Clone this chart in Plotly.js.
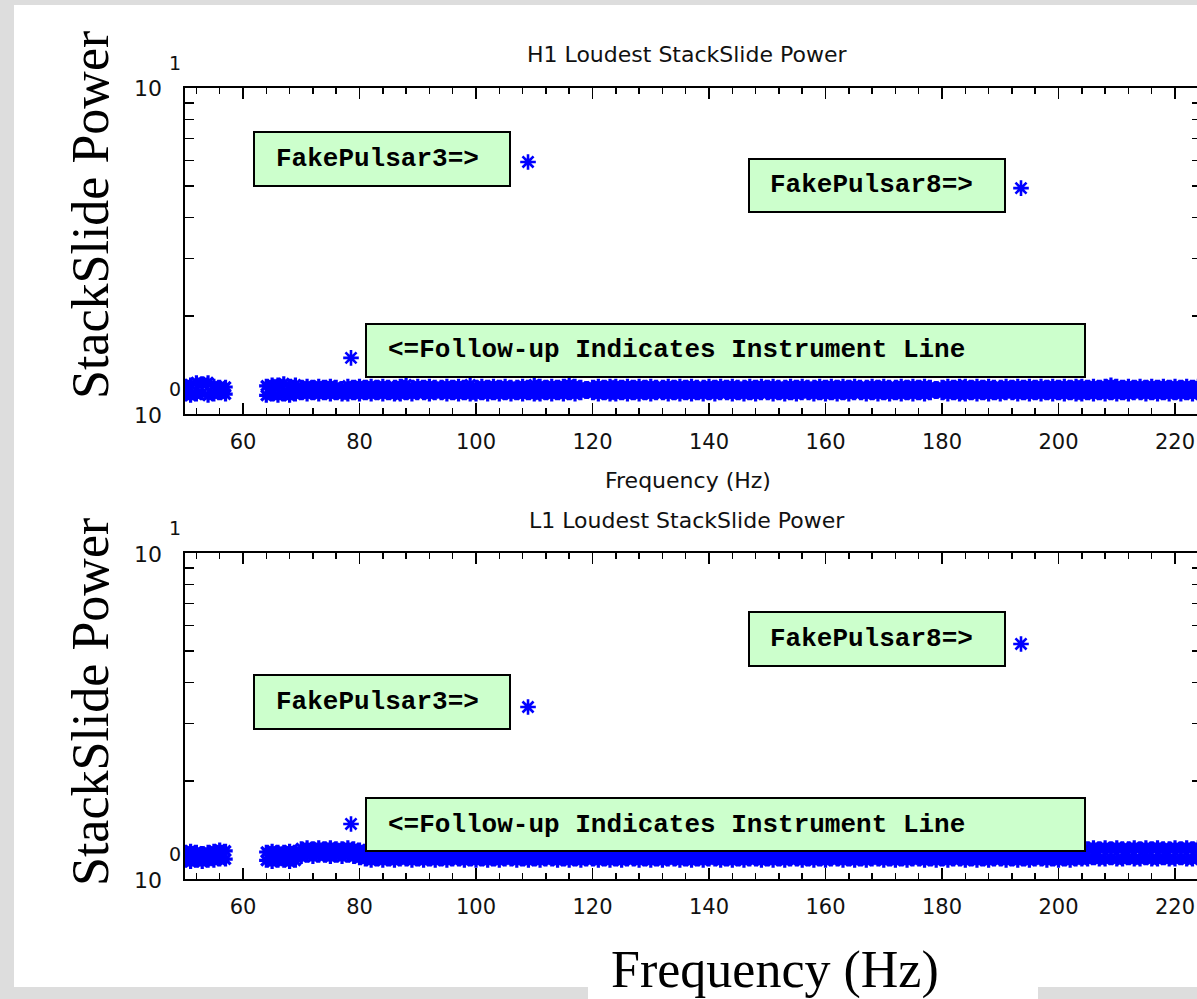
<!DOCTYPE html>
<html><head><meta charset="utf-8">
<script src="https://cdn.plot.ly/plotly-3.0.1.min.js"></script>
<style>
html,body{margin:0;padding:0;overflow:hidden;background:#dddddd;width:1197px;height:999px;}
#w1{position:absolute;left:14px;top:5px;width:1200px;height:982px;background:#fff;}
#w2{position:absolute;left:588px;top:987px;width:450px;height:12px;background:#fff;}
#chart{position:absolute;left:0;top:0;}
</style></head><body>
<div id="w1"></div><div id="w2"></div><div id="chart"></div>
<script>
// ---- data ----
const freqLow = [50,51,52,53,54,55,56,57];
const freqHigh = [64,65,66,67,68,69,70,71,72,73,
74,75,76,77,78,79,80,81,82,83,
84,85,86,87,88,89,90,91,92,93,
94,95,96,97,98,99,100,101,102,103,
104,105,106,107,108,109,110,111,112,113,
114,115,116,117,118,119,120,121,122,123,
124,125,126,127,128,129,130,131,132,133,
134,135,136,137,138,139,140,141,142,143,
144,145,146,147,148,149,150,151,152,153,
154,155,156,157,158,159,160,161,162,163,
164,165,166,167,168,169,170,171,172,173,
174,175,176,177,178,179,180,181,182,183,
184,185,186,187,188,189,190,191,192,193,
194,195,196,197,198,199,200,201,202,203,
204,205,206,207,208,209,210,211,212,213,
214,215,216,217,218,219,220,221,222,223,
224];

// H1 loudest power: upper and lower edge of the dense band
const h1LowUpper = [1.22,1.23,1.25,1.24,1.25,1.22,1.21,1.21];
const h1LowLower = [1.15,1.14,1.15,1.16,1.14,1.15,1.16,1.15];
const h1HighUpper = [1.22,1.23,1.23,1.24,1.22,1.23,1.21,1.22,1.21,1.22,
1.21,1.22,1.21,1.20,1.22,1.21,1.22,1.21,1.22,1.21,
1.22,1.21,1.21,1.22,1.23,1.21,1.22,1.21,1.22,1.21,
1.21,1.22,1.21,1.22,1.21,1.23,1.21,1.22,1.21,1.22,
1.21,1.22,1.21,1.21,1.22,1.21,1.23,1.22,1.21,1.22,
1.21,1.22,1.23,1.22,1.21,1.20,1.21,1.22,1.21,1.22,
1.22,1.21,1.22,1.21,1.22,1.21,1.22,1.21,1.21,1.22,
1.21,1.22,1.21,1.22,1.21,1.21,1.22,1.21,1.22,1.21,
1.22,1.21,1.21,1.22,1.21,1.22,1.21,1.22,1.21,1.21,
1.22,1.21,1.22,1.21,1.21,1.22,1.21,1.22,1.21,1.22,
1.21,1.22,1.21,1.21,1.22,1.21,1.22,1.21,1.21,1.22,
1.21,1.22,1.21,1.22,1.21,1.20,1.21,1.22,1.21,1.22,
1.22,1.21,1.22,1.21,1.22,1.21,1.21,1.22,1.21,1.22,
1.21,1.22,1.21,1.22,1.21,1.22,1.21,1.22,1.21,1.22,
1.22,1.21,1.22,1.21,1.22,1.23,1.22,1.21,1.22,1.21,
1.22,1.21,1.22,1.21,1.22,1.21,1.22,1.21,1.22,1.21,
1.22];
const h1HighLower = [1.14,1.15,1.14,1.15,1.14,1.15,1.16,1.15,1.16,1.15,
1.16,1.15,1.16,1.15,1.15,1.16,1.15,1.16,1.15,1.16,
1.15,1.16,1.15,1.15,1.16,1.15,1.16,1.16,1.15,1.16,
1.16,1.15,1.16,1.15,1.16,1.15,1.15,1.16,1.15,1.16,
1.15,1.16,1.15,1.16,1.15,1.16,1.15,1.15,1.16,1.15,
1.16,1.15,1.16,1.15,1.16,1.17,1.16,1.15,1.16,1.15,
1.15,1.16,1.15,1.16,1.15,1.16,1.15,1.16,1.16,1.15,
1.16,1.15,1.16,1.15,1.16,1.15,1.16,1.15,1.16,1.16,
1.15,1.16,1.15,1.16,1.15,1.16,1.16,1.15,1.16,1.15,
1.16,1.15,1.16,1.16,1.15,1.16,1.15,1.16,1.15,1.16,
1.15,1.16,1.16,1.15,1.16,1.15,1.16,1.15,1.16,1.15,
1.16,1.15,1.16,1.15,1.16,1.17,1.16,1.15,1.16,1.15,
1.15,1.16,1.15,1.16,1.15,1.16,1.15,1.16,1.16,1.15,
1.16,1.15,1.16,1.15,1.16,1.15,1.16,1.15,1.16,1.15,
1.15,1.16,1.15,1.16,1.15,1.16,1.15,1.16,1.15,1.16,
1.16,1.15,1.16,1.15,1.16,1.15,1.16,1.15,1.16,1.15,
1.16];

// L1 loudest power: upper and lower edge of the dense band
const l1LowUpper = [1.21,1.22,1.21,1.20,1.21,1.22,1.23,1.22];
const l1LowLower = [1.14,1.13,1.14,1.13,1.14,1.14,1.15,1.15];
const l1HighUpper = [1.21,1.22,1.21,1.21,1.22,1.21,1.24,1.25,1.24,1.25,
1.24,1.25,1.24,1.24,1.25,1.24,1.23,1.22,1.21,1.22,
1.21,1.22,1.22,1.21,1.22,1.21,1.22,1.21,1.22,1.22,
1.21,1.22,1.21,1.22,1.22,1.21,1.22,1.21,1.22,1.21,
1.22,1.21,1.22,1.22,1.21,1.22,1.21,1.22,1.21,1.22,
1.22,1.21,1.22,1.21,1.22,1.21,1.22,1.22,1.21,1.22,
1.21,1.22,1.21,1.22,1.22,1.21,1.22,1.21,1.22,1.21,
1.22,1.22,1.21,1.22,1.21,1.22,1.21,1.22,1.22,1.21,
1.22,1.21,1.22,1.21,1.22,1.22,1.21,1.22,1.21,1.22,
1.21,1.22,1.22,1.21,1.22,1.21,1.22,1.21,1.22,1.22,
1.21,1.22,1.21,1.22,1.21,1.22,1.22,1.21,1.22,1.21,
1.22,1.21,1.22,1.22,1.21,1.22,1.21,1.22,1.21,1.22,
1.22,1.21,1.22,1.21,1.22,1.21,1.22,1.22,1.21,1.22,
1.21,1.22,1.21,1.22,1.22,1.21,1.22,1.21,1.22,1.21,
1.22,1.24,1.25,1.24,1.25,1.24,1.25,1.24,1.24,1.25,
1.24,1.25,1.24,1.25,1.24,1.24,1.25,1.24,1.25,1.24,
1.25];
const l1HighLower = [1.14,1.13,1.14,1.14,1.13,1.14,1.17,1.18,1.17,1.18,
1.18,1.17,1.18,1.17,1.18,1.17,1.16,1.15,1.14,1.15,
1.14,1.15,1.14,1.15,1.15,1.14,1.15,1.14,1.15,1.14,
1.15,1.14,1.15,1.15,1.14,1.15,1.14,1.15,1.14,1.15,
1.14,1.15,1.15,1.14,1.15,1.14,1.15,1.14,1.15,1.15,
1.14,1.15,1.14,1.15,1.14,1.15,1.15,1.14,1.15,1.14,
1.15,1.14,1.15,1.15,1.14,1.15,1.14,1.15,1.14,1.15,
1.15,1.14,1.15,1.14,1.15,1.14,1.15,1.15,1.14,1.15,
1.14,1.15,1.14,1.15,1.15,1.14,1.15,1.14,1.15,1.14,
1.15,1.15,1.14,1.15,1.14,1.15,1.14,1.15,1.15,1.14,
1.15,1.14,1.15,1.14,1.15,1.15,1.14,1.15,1.14,1.15,
1.14,1.15,1.15,1.14,1.15,1.14,1.15,1.14,1.15,1.15,
1.14,1.15,1.14,1.15,1.14,1.15,1.15,1.14,1.15,1.14,
1.15,1.14,1.15,1.15,1.14,1.15,1.14,1.15,1.14,1.15,
1.15,1.15,1.16,1.15,1.15,1.16,1.15,1.15,1.16,1.15,
1.15,1.16,1.15,1.15,1.16,1.15,1.15,1.16,1.15,1.15,
1.16];

// isolated loud candidates: follow-up line, FakePulsar3, FakePulsar8
const candFreq = [78.54, 108.93, 193.56];
const h1CandPower = [1.486, 5.93, 4.93];
const l1CandPower = [1.475, 3.37, 5.26];

const plotTitles = ['H1 Loudest StackSlide Power', 'L1 Loudest StackSlide Power'];
const boxLabels = ['FakePulsar3=>', 'FakePulsar8=>', '<=Follow-up Indicates Instrument Line'];
const yTickBase = '10';
const yTickExp = ['0', '1'];

// ---- figure ----
const W = 1203, H = 999;
const px = v => v / W;
const py = v => 1 - v / H;
const BLUE = '#0000ff';

const bandMarker = {symbol: 'asterisk-open', size: 12, color: BLUE, line: {color: BLUE, width: 3.2}};
const candMarker = {symbol: 'asterisk-open', size: 13, color: BLUE, line: {color: BLUE, width: 2.6}};

function bandTrace(x, y, xa, ya) {
  return {type: 'scatter', mode: 'markers', x: x, y: y, xaxis: xa, yaxis: ya,
          marker: bandMarker, hoverinfo: 'skip', showlegend: false};
}
const xAll = freqLow.concat(freqHigh);
const data = [
  bandTrace(xAll, h1LowUpper.concat(h1HighUpper), 'x', 'y'),
  bandTrace(xAll, h1LowLower.concat(h1HighLower), 'x', 'y'),
  {type: 'scatter', mode: 'markers', x: candFreq, y: h1CandPower, xaxis: 'x', yaxis: 'y',
   marker: candMarker, hoverinfo: 'skip', showlegend: false},
  bandTrace(xAll, l1LowUpper.concat(l1HighUpper), 'x2', 'y2'),
  bandTrace(xAll, l1LowLower.concat(l1HighLower), 'x2', 'y2'),
  {type: 'scatter', mode: 'markers', x: candFreq, y: l1CandPower, xaxis: 'x2', yaxis: 'y2',
   marker: candMarker, hoverinfo: 'skip', showlegend: false}
];

const tickFont = {family: 'DejaVu Sans', size: 21, color: '#111'};
function xAxis(anchor) {
  return {anchor: anchor, domain: [px(184.75), px(1201)], range: [50, 224.46], type: 'linear',
    tickmode: 'linear', tick0: 0, dtick: 20, ticks: 'inside', ticklen: 11, tickwidth: 1.5, tickcolor: '#000',
    minor: {tick0: 0, dtick: 4, ticks: 'inside', ticklen: 6, tickwidth: 1.5, tickcolor: '#000'},
    showline: true, linewidth: 2, linecolor: '#000', mirror: 'ticks', showgrid: false, zeroline: false,
    tickfont: tickFont, ticklabelstandoff: 8, automargin: false, fixedrange: true};
}
function yAxis(anchor, top, bottom) {
  return {anchor: anchor, domain: [py(bottom), py(top)], type: 'log', range: [0, 1],
    tickmode: 'array', tickvals: [2,3,4,5,6,7,8,9], ticks: 'inside', ticklen: 9, tickwidth: 1.5, tickcolor: '#000',
    showticklabels: false, showline: true, linewidth: 2, linecolor: '#000', mirror: 'ticks',
    showgrid: false, zeroline: false, automargin: false, fixedrange: true};
}

const panels = [{top: 88, bottom: 414}, {top: 553, bottom: 879}];
const shapes = [];
const annotations = [];

function box(x0, y0, x1, y1, label, textX) {
  shapes.push({type: 'rect', xref: 'paper', yref: 'paper', x0: px(x0), x1: px(x1), y0: py(y1), y1: py(y0),
    fillcolor: '#ccffcc', line: {color: '#000', width: 2}, layer: 'above'});
  annotations.push({xref: 'paper', yref: 'paper', x: px(textX), y: py((y0 + y1) / 2), xanchor: 'left', yanchor: 'middle',
    text: label, showarrow: false, font: {family: 'Liberation Mono', size: 26, color: '#000', weight: 'bold'}});
}
// top panel boxes
box(254, 132, 510, 186, '<b>' + boxLabels[0] + '</b>', 274);
box(749, 159, 1005, 212, '<b>' + boxLabels[1] + '</b>', 768);
box(366, 324, 1085, 377, '<b>' + boxLabels[2] + '</b>', 386);
// bottom panel boxes
box(749, 612, 1005, 666, '<b>' + boxLabels[1] + '</b>', 768);
box(254, 675, 510, 729, '<b>' + boxLabels[0] + '</b>', 274);
box(366, 798, 1085, 851, '<b>' + boxLabels[2] + '</b>', 386);

panels.forEach((p, i) => {
  // y tick labels 10^0 / 10^1 in the plot's style
  [[p.bottom, yTickExp[0]], [p.top, yTickExp[1]]].forEach(([yy, e]) => {
    annotations.push({xref: 'paper', yref: 'paper', x: px(164), y: py(yy + 1), xanchor: 'right', yanchor: 'middle',
      text: yTickBase, showarrow: false, font: {family: 'DejaVu Sans', size: 22, color: '#111'}});
    annotations.push({xref: 'paper', yref: 'paper', x: px(174.5), y: py(yy - 25), xanchor: 'center', yanchor: 'middle',
      text: e, showarrow: false, font: {family: 'DejaVu Sans', size: 19, color: '#111'}});
  });
  // panel title
  annotations.push({xref: 'paper', yref: 'paper', x: px(687), y: py(p.top - 33), xanchor: 'center', yanchor: 'middle',
    text: plotTitles[i], showarrow: false, font: {family: 'DejaVu Sans', size: 22, color: '#111'}});
  // big serif y title
  annotations.push({xref: 'paper', yref: 'paper', x: px(90), y: py((p.top + p.bottom) / 2 - (i === 0 ? 36 : 14)),
    xanchor: 'center', yanchor: 'middle', textangle: -90,
    text: 'StackSlide Power', showarrow: false, font: {family: 'Liberation Serif', size: 52, color: '#000'}});
});
// small x title under top panel
annotations.push({xref: 'paper', yref: 'paper', x: px(688), y: py(480), xanchor: 'center', yanchor: 'middle',
  text: 'Frequency (Hz)', showarrow: false, font: {family: 'DejaVu Sans', size: 22, color: '#111'}});
// big serif x title
annotations.push({xref: 'paper', yref: 'paper', x: px(775), y: py(970), xanchor: 'center', yanchor: 'middle',
  text: 'Frequency (Hz)', showarrow: false, font: {family: 'Liberation Serif', size: 52, color: '#000'}});

const layout = {
  width: W, height: H, margin: {l: 0, r: 0, t: 0, b: 0, pad: 0},
  paper_bgcolor: 'rgba(0,0,0,0)', plot_bgcolor: 'rgba(0,0,0,0)',
  showlegend: false,
  xaxis: xAxis('y'), yaxis: yAxis('x', panels[0].top, panels[0].bottom),
  xaxis2: xAxis('y2'), yaxis2: yAxis('x2', panels[1].top, panels[1].bottom),
  shapes: shapes, annotations: annotations
};
Plotly.newPlot('chart', data, layout, {staticPlot: true, displayModeBar: false});
</script></body></html>
